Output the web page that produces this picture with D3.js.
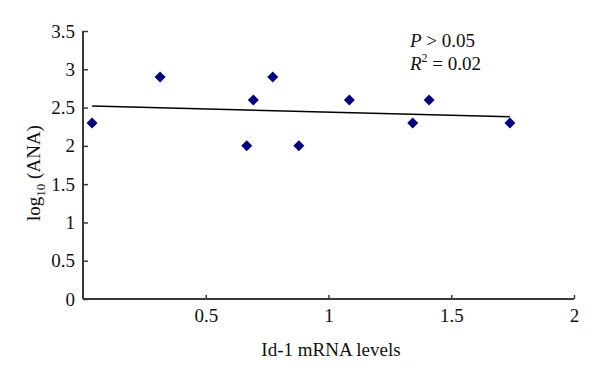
<!DOCTYPE html>
<html>
<head>
<meta charset="utf-8">
<script src="https://cdn.jsdelivr.net/npm/d3@7"></script>
<style>
  html, body { margin: 0; padding: 0; background: #fff; }
  svg { display: block; }
  text { font-family: "Liberation Serif", "DejaVu Serif", serif; fill: #111; }
</style>
</head>
<body>
<svg id="chart" width="600" height="379"></svg>
<script>
// Data
const idMRNA = [0.037, 0.314, 0.667, 0.694, 0.773, 0.879, 1.085, 1.343, 1.41, 1.739];
const log10ANA = [2.3, 2.9, 2.0, 2.6, 2.9, 2.0, 2.6, 2.3, 2.6, 2.3];
const xTicks = [0.5, 1, 1.5, 2];
const yTicks = [0, 0.5, 1, 1.5, 2, 2.5, 3, 3.5];

const svg = d3.select("#chart");
const x = d3.scaleLinear().domain([0, 2]).range([83, 574]);
const y = d3.scaleLinear().domain([0, 3.5]).range([299, 31]);

const axisColor = "#3a3a3a";
const serif = "Liberation Serif, DejaVu Serif, serif";

// X axis (ticks pointing up, inside)
const gx = svg.append("g").attr("transform", `translate(0,${y(0)})`)
  .call(d3.axisBottom(x).tickValues(xTicks).tickSize(-4).tickSizeOuter(0).tickPadding(10).tickFormat(d3.format("")))
  .attr("font-family", serif).attr("font-size", 19);
gx.select(".domain").attr("stroke", axisColor).attr("stroke-width", 2).attr("d", `M${x(0)},0H${x(2)}`);
gx.selectAll(".tick line").attr("stroke", axisColor).attr("stroke-width", 1.5);
gx.selectAll(".tick text").attr("dy", "0.71em").attr("fill", "#111");

// Y axis (ticks pointing right, inside)
const gy = svg.append("g").attr("transform", `translate(${x(0)},0)`)
  .call(d3.axisLeft(y).tickValues(yTicks).tickSize(-5).tickSizeOuter(0).tickPadding(8).tickFormat(d3.format("")))
  .attr("font-family", serif).attr("font-size", 19);
gy.select(".domain").attr("stroke", axisColor).attr("stroke-width", 2).attr("d", `M0,${y(0)}V${y(3.5)}`);
gy.selectAll(".tick line").attr("stroke", axisColor).attr("stroke-width", 1.5);
gy.selectAll(".tick text").attr("fill", "#111");

// Trend line (least squares fit of the data)
const mx = d3.mean(idMRNA), my = d3.mean(log10ANA);
let sxy = 0, sxx = 0;
idMRNA.forEach((v, i) => { sxy += (v - mx) * (log10ANA[i] - my); sxx += (v - mx) * (v - mx); });
const slope = sxy / sxx, intercept = my - slope * mx;
const xmin = d3.min(idMRNA), xmax = d3.max(idMRNA);
svg.append("line")
  .attr("x1", x(xmin)).attr("y1", y(intercept + slope * xmin))
  .attr("x2", x(xmax)).attr("y2", y(intercept + slope * xmax))
  .attr("stroke", "#000").attr("stroke-width", 1.5);

// Points (diamonds)
const s = 5.5;
svg.append("g").selectAll("path").data(idMRNA).join("path")
  .attr("d", (d, i) => {
    const cx = x(d), cy = y(log10ANA[i]);
    return `M${cx},${cy - s}L${cx + s},${cy}L${cx},${cy + s}L${cx - s},${cy}Z`;
  })
  .attr("fill", "#000080");

// Stats text
const t1 = svg.append("text").attr("x", 410).attr("y", 47).attr("font-size", 19);
t1.append("tspan").attr("font-style", "italic").text("P");
t1.append("tspan").text(" > 0.05");
const t2 = svg.append("text").attr("x", 410).attr("y", 70).attr("font-size", 19);
t2.append("tspan").attr("font-style", "italic").text("R");
t2.append("tspan").attr("font-size", 12).attr("dy", -8).text("2");
t2.append("tspan").attr("dy", 8).text(" = 0.02");

// Axis titles
svg.append("text").attr("x", 331).attr("y", 356).attr("text-anchor", "middle")
  .attr("font-size", 19).text("Id-1 mRNA levels");

const yl = svg.append("text").attr("transform", "translate(40,173) rotate(-90)")
  .attr("text-anchor", "middle").attr("font-size", 19);
yl.append("tspan").text("log");
yl.append("tspan").attr("font-size", 13).attr("dy", 5).text("10");
yl.append("tspan").attr("dy", -5).text(" (ANA)");
</script>
</body>
</html>
